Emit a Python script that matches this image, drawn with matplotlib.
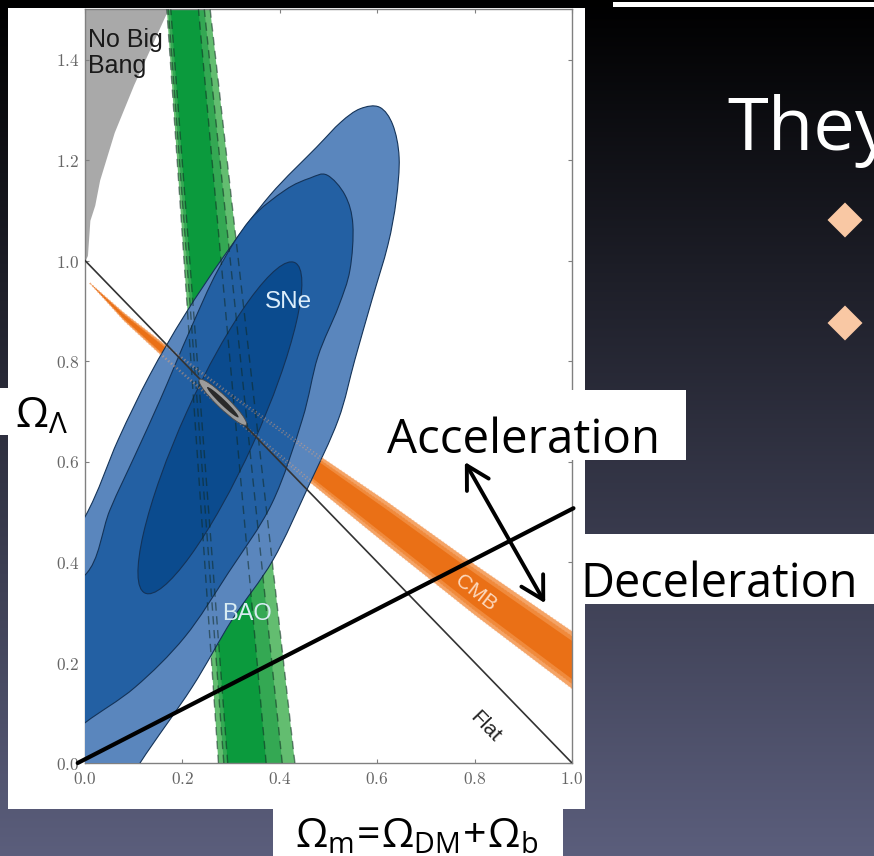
import numpy as np
import matplotlib
matplotlib.use("Agg")
import matplotlib.pyplot as plt
from matplotlib.patches import Rectangle, Ellipse, PathPatch, FancyArrowPatch, Polygon
from matplotlib.path import Path
from matplotlib.ticker import FixedLocator, FuncFormatter

plt.rcParams["mathtext.fontset"] = "cm"
plt.rcParams["mathtext.rm"] = "Open Sans"
plt.rcParams["mathtext.it"] = "Open Sans"
plt.rcParams["mathtext.bf"] = "Open Sans"
plt.rcParams["mathtext.sf"] = "Open Sans"

# ---------------- data (Omega_m, Omega_Lambda) ----------------
# "No Big Bang" boundary
nbb_x = [0.0, 0.005, 0.01, 0.02, 0.03, 0.06, 0.10, 0.14, 0.18]
nbb_y = [1.00, 1.01, 1.08, 1.11, 1.16, 1.255, 1.35, 1.435, 1.52]

# BAO bands (3, 2, 1 sigma): edge positions at Omega_L = 0 and 1.5
bao_y = [0.0, 1.5]
bao_left = [[0.274, 0.168], [0.285, 0.171], [0.293, 0.176]]
bao_right = [[0.431, 0.257], [0.405, 0.245], [0.372, 0.233]]

# CMB band: centre line and half widths (3, 2, 1 sigma)
cmb_x = [0.01, 0.08, 0.16, 0.30, 0.45, 0.62, 0.80, 1.00]
cmb_y = [0.955, 0.888, 0.822, 0.712, 0.600, 0.477, 0.345, 0.205]
cmb_half = [
    [0.000, 0.008, 0.014, 0.022, 0.032, 0.043, 0.050, 0.057],
    [0.000, 0.006, 0.011, 0.018, 0.026, 0.035, 0.042, 0.048],
    [0.000, 0.004, 0.008, 0.013, 0.020, 0.027, 0.033, 0.038],
]

# SNe confidence contours
sne_outer_x = [0.605, 0.632, 0.645, 0.639, 0.622, 0.589, 0.554, 0.520, 0.458,
               0.386, 0.302, 0.220, 0.113, 0.031, -0.113, -0.113, 0.000, 0.068,
               0.133, 0.205, 0.287, 0.380, 0.475, 0.525, 0.565]
sne_outer_y = [1.305, 1.270, 1.205, 1.120, 1.031, 0.921, 0.802, 0.683, 0.549,
               0.404, 0.285, 0.151, 0.000, -0.133, -0.133, 0.324, 0.490, 0.643,
               0.772, 0.892, 1.011, 1.130, 1.225, 1.275, 1.302]
sne_mid_x = [0.497, 0.534, 0.550, 0.544, 0.520, 0.478, 0.446, 0.384, 0.294,
             0.205, 0.103, 0.000, -0.092, -0.133, 0.000, 0.051, 0.103, 0.154,
             0.216, 0.273, 0.339, 0.411, 0.462]
sne_mid_y = [1.170, 1.130, 1.071, 0.981, 0.907, 0.808, 0.683, 0.517, 0.378,
             0.251, 0.151, 0.080, 0.006, 0.324, 0.374, 0.503, 0.613, 0.722,
             0.862, 0.981, 1.081, 1.140, 1.164]
sne_inner_center = (0.277, 0.667)
sne_inner_axes = (0.726, 0.150)
sne_inner_angle = 64.9

# combined constraint
joint_center = (0.283, 0.718)
joint_axes = (0.132, 0.024)
joint_core_axes = (0.088, 0.011)
joint_angle = -43.0

# flat universe and q0 = 0 lines
flat_x = [0.0, 1.0]
flat_y = [1.0, 0.0]
decel_x = [-0.015, 1.003]
decel_y = [0.0, 0.507]

xticks = [0.0, 0.2, 0.4, 0.6, 0.8, 1.0]
yticks = [0.0, 0.2, 0.4, 0.6, 0.8, 1.0, 1.2, 1.4]

# ---------------- figure ----------------
W, H = 874, 856
fig = plt.figure(figsize=(W / 100, H / 100), dpi=100)

# slide background
bg = fig.add_axes([0, 0, 1, 1], zorder=0)
t = np.linspace(0, 1, H)[:, None]
c_top = np.array([0.0, 0.0, 0.0])
c_bot = np.array([91, 94, 124]) / 255.0
grad = (c_top + (c_bot - c_top) * t)[:, None, :]
bg.imshow(grad, extent=[0, W, H, 0], aspect="auto", interpolation="bilinear")
bg.set_xlim(0, W)
bg.set_ylim(H, 0)
bg.axis("off")
bg.add_patch(Rectangle((613, 2), 261, 5, fc="white", ec="none"))
bg.add_patch(Rectangle((8, 8), 577, 801, fc="white", ec="none"))
for cy in (220, 323):
    bg.add_patch(Polygon([(845, cy - 17.5), (862.5, cy), (845, cy + 17.5), (827.5, cy)],
                         closed=True, fc="#f9c8a4", ec="none"))
bg.text(727, 150, "They", fontsize=53.4, color="white", family="Open Sans",
        va="baseline", ha="left")

# plot axes
ax = fig.add_axes([85 / W, 1 - 763 / H, 487 / W, (763 - 9.25) / H], zorder=1)
ax.set_xlim(0, 1)
ax.set_ylim(0, 1.5)
ax.set_facecolor("white")


def smooth_closed(xs, ys):
    P = np.column_stack([xs, ys]).astype(float)
    n = len(P)
    verts = [P[0]]
    codes = [Path.MOVETO]
    for i in range(n):
        p0, p1, p2, p3 = P[i - 1], P[i], P[(i + 1) % n], P[(i + 2) % n]
        verts += [p1 + (p2 - p0) / 6.0, p2 - (p3 - p1) / 6.0, p2]
        codes += [Path.CURVE4] * 3
    verts.append(P[0])
    codes.append(Path.CLOSEPOLY)
    return Path(verts, codes)


# No Big Bang region
ax.fill_betweenx(nbb_y, 0, nbb_x, color="#a9a9a9", lw=0, zorder=1)
ax.fill_between([0, nbb_x[-1]], [nbb_y[-1], nbb_y[-1]], [1.6, 1.6], color="#a9a9a9", lw=0, zorder=1)

# BAO
bao_colors = ["#63bd70", "#34a853", "#0b9a3d"]
for lft, rgt, col in zip(bao_left, bao_right, bao_colors):
    ax.add_patch(Polygon([(lft[0], bao_y[0]), (lft[1], bao_y[1]),
                          (rgt[1], bao_y[1]), (rgt[0], bao_y[0])],
                         closed=True, fc=col, ec="none", zorder=2))

# CMB
cmb_colors = ["#f5a466", "#f08a3c", "#ea7016"]
cx = np.array(cmb_x)
cy = np.array(cmb_y)
for half, col in zip(cmb_half, cmb_colors):
    h = np.array(half)
    pts = list(zip(cx, cy + h)) + list(zip(cx[::-1], (cy - h)[::-1]))
    ax.add_patch(Polygon(pts, closed=True, fc=col, ec="none", zorder=2.5))

# SNe
edge = "#143358"
ax.add_patch(PathPatch(smooth_closed(sne_outer_x, sne_outer_y), fc="#5a86bd", ec=edge, lw=0.8, zorder=3))
ax.add_patch(PathPatch(smooth_closed(sne_mid_x, sne_mid_y), fc="#2360a3", ec=edge, lw=0.8, zorder=3.1))
ax.add_patch(Ellipse(sne_inner_center, sne_inner_axes[0], sne_inner_axes[1], angle=sne_inner_angle,
                     fc="#0b4b8e", ec=edge, lw=0.8, zorder=3.2))

# BAO and CMB contour edges seen through the SNe contours
for lft, rgt in zip(bao_left, bao_right):
    for e in (lft, rgt):
        ax.plot([e[0], e[1]], bao_y, color="#0f2a22", alpha=0.55, lw=1.0,
                dashes=(6, 4), zorder=4)
for half in cmb_half[:2]:
    h = np.array(half)
    for sgn in (1, -1):
        ax.plot(cx, cy + sgn * h, color="#f3a672", alpha=0.45, lw=1.0, ls=":", zorder=4)

# flat line
ax.plot(flat_x, flat_y, color="#333333", lw=1.2, zorder=5)

# joint constraint
ax.add_patch(Ellipse(joint_center, joint_axes[0], joint_axes[1], angle=joint_angle,
                     fc="#9c9c9c", ec="#4a4a4a", lw=0.6, zorder=6))
ax.add_patch(Ellipse(joint_center, joint_core_axes[0], joint_core_axes[1], angle=joint_angle,
                     fc="#2a2a2a", ec="none", zorder=6.1))

# labels inside the plot
lab = dict(family="Liberation Sans", zorder=7)
ax.text(0.006, 1.425, "No Big", fontsize=18, color="#1a1a1a", va="baseline", **lab)
ax.text(0.006, 1.373, "Bang", fontsize=18, color="#1a1a1a", va="baseline", **lab)
ax.text(0.417, 0.917, "SNe", fontsize=17.5, color="#dcedfa", ha="center", va="center", **lab)
ax.text(0.333, 0.297, "BAO", fontsize=17, color="#d8ecf2", ha="center", va="center", **lab)
ax.text(0.803, 0.338, "CMB", fontsize=15, color="#fcd8bd", rotation=-38,
        rotation_mode="anchor", ha="center", va="center", **lab)
ax.text(0.821, 0.072, "Flat", fontsize=15, color="#222222", rotation=-46,
        rotation_mode="anchor", ha="center", va="center", **lab)

# deceleration / acceleration divide and arrow
ax.plot(decel_x, decel_y, color="black", lw=3.0, solid_capstyle="round", clip_on=False, zorder=8)
ax.add_patch(FancyArrowPatch((0.780, 0.599), (0.945, 0.318),
                             arrowstyle="<->,head_length=0.8,head_width=0.45",
                             mutation_scale=20, lw=2.8, color="black",
                             shrinkA=0, shrinkB=0, clip_on=False, zorder=9))

# axes styling
for s in ax.spines.values():
    s.set_color("#808080")
    s.set_linewidth(1.0)
ax.xaxis.set_major_locator(FixedLocator(xticks))
ax.yaxis.set_major_locator(FixedLocator(yticks))
fmt = FuncFormatter(lambda v, _: r"$%.1f$" % v)
ax.xaxis.set_major_formatter(fmt)
ax.yaxis.set_major_formatter(fmt)
ax.tick_params(direction="in", length=3, width=0.8, color="#808080",
               top=True, right=True, labelsize=12.5, labelcolor="#666666")
ax.tick_params(axis="x", pad=5)
ax.tick_params(axis="y", pad=4)

# slide overlay: white label boxes and text
ov = fig.add_axes([0, 0, 1, 1], zorder=2)
ov.set_xlim(0, W)
ov.set_ylim(H, 0)
ov.axis("off")
for (x0, y0, w, h) in [(0, 388, 62, 47), (383, 390, 303, 70), (575, 534, 299, 70), (273, 808, 290, 48)]:
    ov.add_patch(Rectangle((x0, y0), w, h, fc="white", ec="none"))

renderer = fig.canvas.get_renderer()


def fit_text(axx, x, y, s, width_px, size0=30, **kw):
    tt = axx.text(x, y, s, fontsize=size0, va="baseline", ha="left", **kw)
    w = tt.get_window_extent(renderer).width
    tt.set_fontsize(size0 * width_px / w)
    return tt


fit_text(ov, 387, 453, "Acceleration", 273, family="Open Sans", color="black")
fit_text(ov, 580, 597, "Deceleration", 277, family="Open Sans", color="black")
fit_text(ov, 15, 427, r"$\Omega_{\Lambda}$", 53, color="black", math_fontfamily="custom")
fit_text(ov, 295, 847, r"$\Omega_{\mathrm{m}}\!=\!\Omega_{\mathrm{DM}}\!+\!\Omega_{\mathrm{b}}$", 243,
         color="black", math_fontfamily="custom")

fig.savefig("out.png", dpi=100)
